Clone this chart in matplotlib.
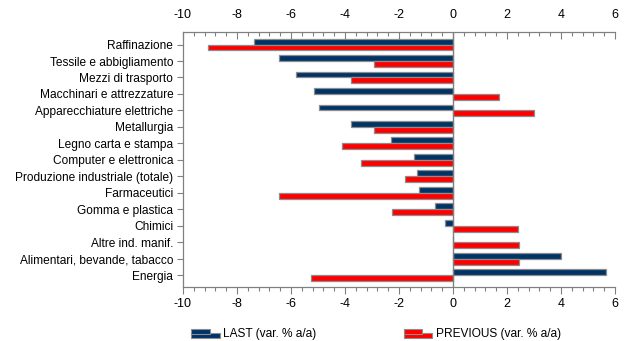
import matplotlib
matplotlib.use("Agg")
import matplotlib.pyplot as plt
import numpy as np
from matplotlib.patches import Rectangle
from matplotlib.legend_handler import HandlerBase
from matplotlib.ticker import MultipleLocator

plt.rcParams['font.family'] = ['Liberation Sans', 'DejaVu Sans']
plt.rcParams['axes.unicode_minus'] = False

sectors = [
    "Raffinazione",
    "Tessile e abbigliamento",
    "Mezzi di trasporto",
    "Macchinari e attrezzature",
    "Apparecchiature elettriche",
    "Metallurgia",
    "Legno carta e stampa",
    "Computer e elettronica",
    "Produzione industriale (totale)",
    "Farmaceutici",
    "Gomma e plastica",
    "Chimici",
    "Altre ind. manif.",
    "Alimentari, bevande, tabacco",
    "Energia",
]
last = [-7.38, -6.46, -5.80, -5.14, -4.96, -3.78, -2.31, -1.46, -1.32, -1.25,
        -0.67, -0.30, 0.0, 4.01, 5.67]
previous = [-9.06, -2.94, -3.78, 1.70, 3.01, -2.94, -4.11, -3.42, -1.77, -6.43,
            -2.25, 2.40, 2.43, 2.43, -5.26]

navy = "#003366"
red = "#ff0000"
edge = "#8c8c8c"
axis_grey = "#808080"


class StepHandler(HandlerBase):
    # small two-step bar icon used in the legend
    def create_artists(self, legend, orig_handle, xdescent, ydescent,
                       width, height, fontsize, trans):
        fc = orig_handle.get_facecolor()
        x0, y0 = -xdescent, -ydescent
        top = Rectangle((x0, y0 + height * 0.45), width * 0.65, height * 0.5,
                        facecolor=fc, edgecolor=edge, linewidth=0.8, transform=trans)
        bot = Rectangle((x0, y0 + height * 0.05), width, height * 0.45,
                        facecolor=fc, edgecolor=edge, linewidth=0.8, transform=trans)
        return [bot, top]


fig = plt.figure(figsize=(6.26, 3.41), dpi=100)
ax = fig.add_axes([0.2923, 0.1584, 0.6901, 0.7486])

y = np.arange(len(sectors))
h = 0.36
b1 = ax.barh(y - h / 2, last, height=h, color=navy, edgecolor=edge, linewidth=0.9)
b2 = ax.barh(y + h / 2, previous, height=h, color=red, edgecolor=edge, linewidth=0.9)

ax.set_xlim(-10, 6)
ax.set_ylim(14.72, -0.78)
ax.axvline(0, color=axis_grey, linewidth=1.0, zorder=3)

ax.set_yticks(y)
ax.set_yticklabels(sectors, fontsize=8.6)
ax.tick_params(axis='y', direction='out', length=4, color=axis_grey, width=0.8, pad=3)

ax.xaxis.set_major_locator(MultipleLocator(2))
ax.xaxis.set_minor_locator(MultipleLocator(0.4))
ax.tick_params(axis='x', which='both', top=True, labeltop=True,
               labelsize=9, color=axis_grey, width=0.8, pad=3)
ax.tick_params(axis='x', which='major', length=5)
ax.tick_params(axis='x', which='minor', length=3)

# ticks on top point into the plot, bottom ones point out
for t in ax.xaxis.get_major_ticks() + ax.xaxis.get_minor_ticks():
    t.tick2line.set_marker(3)
    t.tick1line.set_marker(3)

ax.spines['right'].set_visible(False)
for s in ('left', 'top', 'bottom'):
    ax.spines[s].set_color(axis_grey)
    ax.spines[s].set_linewidth(0.9)

fig.legend([b1[0], b2[0]], ["LAST (var. % a/a)", "PREVIOUS (var. % a/a)"],
           handler_map={type(b1[0]): StepHandler()},
           loc='center left', bbox_to_anchor=(0.305, 0.02), ncol=2,
           frameon=False, fontsize=8.6, handlelength=2.4, handleheight=0.9,
           handletextpad=0.3, columnspacing=7.3, borderpad=0, borderaxespad=0)

fig.savefig("out.png", dpi=100)
